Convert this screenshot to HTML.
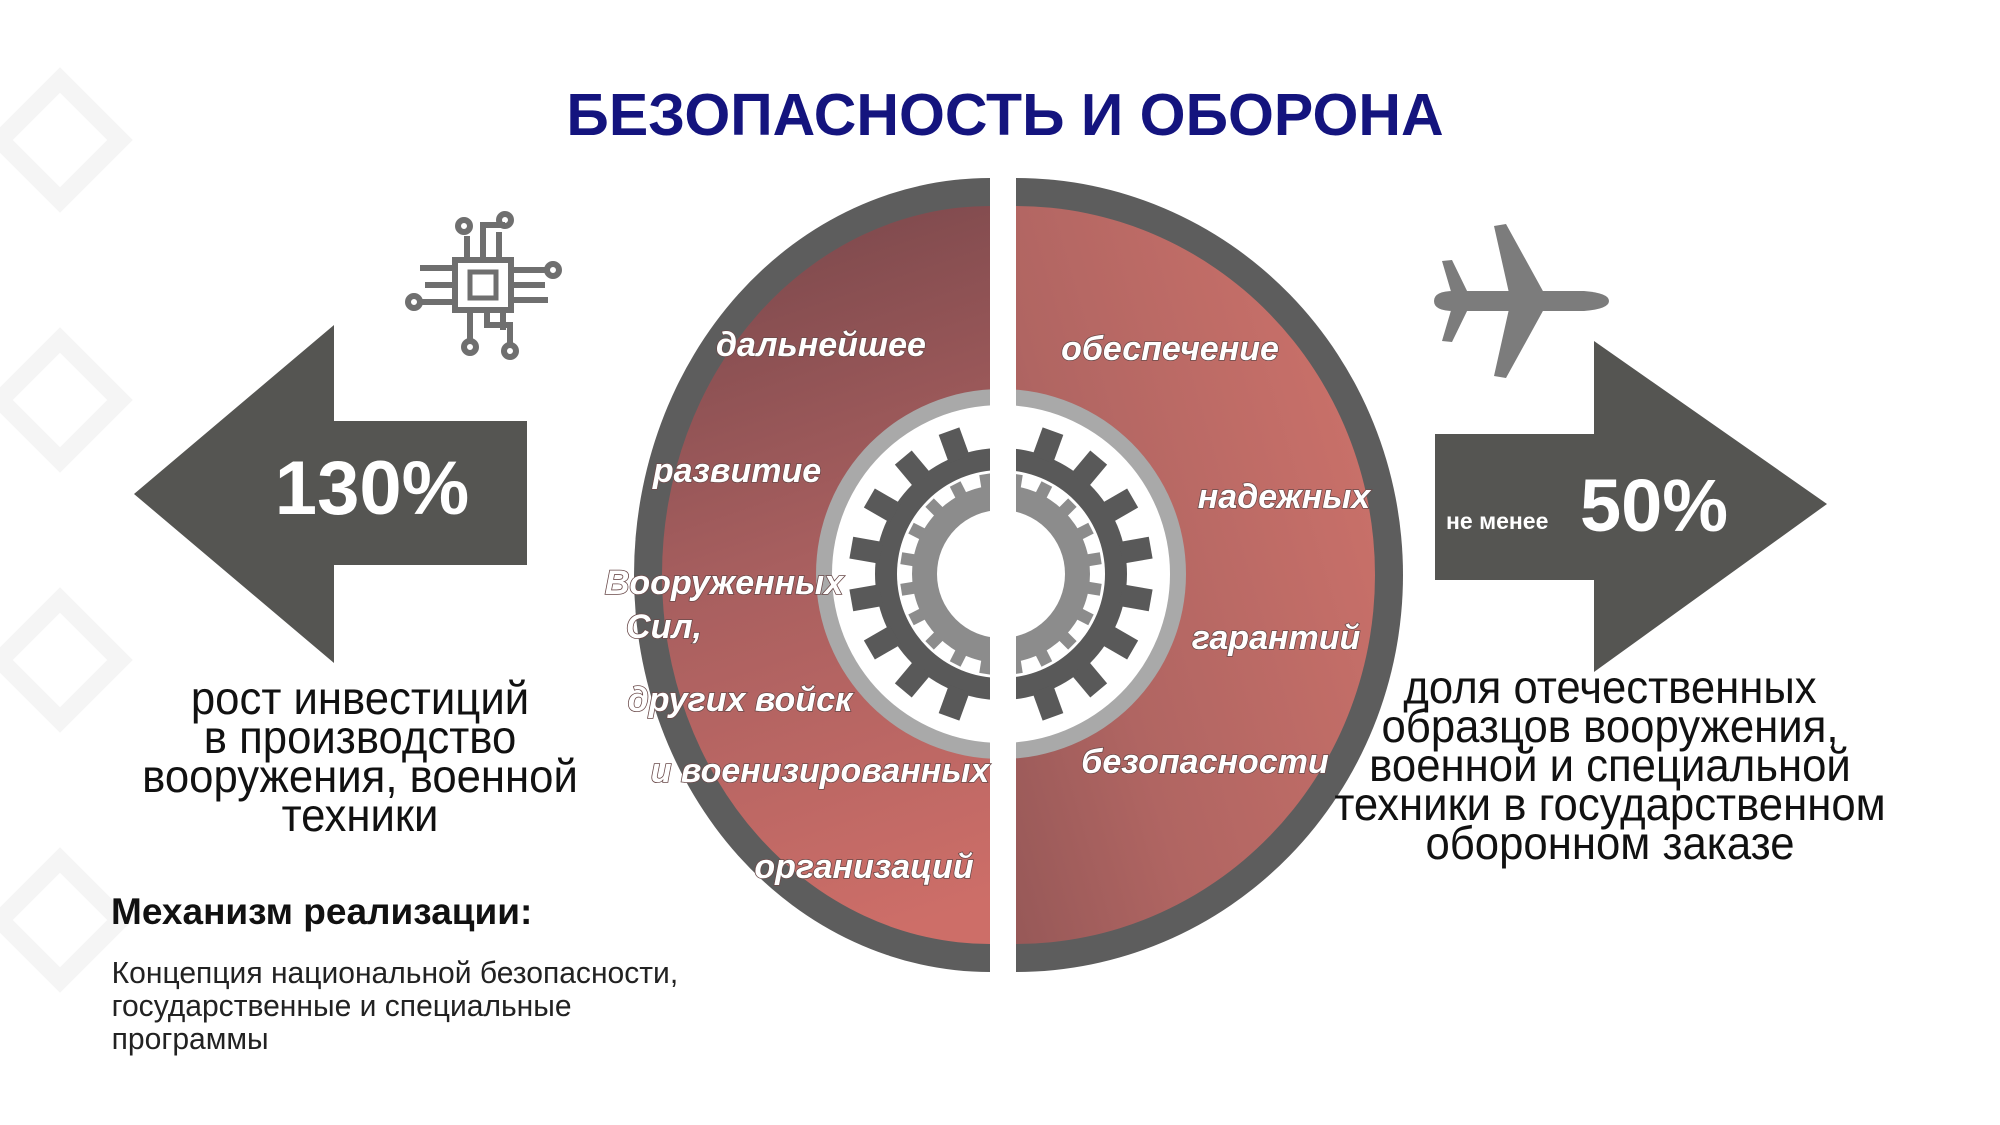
<!DOCTYPE html>
<html><head><meta charset="utf-8"><style>
body{margin:0;background:#fff}
svg{display:block}
</style></head><body>
<svg width="2000" height="1125" viewBox="0 0 2000 1125" xmlns="http://www.w3.org/2000/svg">
<defs>
<linearGradient id="gl" x1="0" y1="0" x2="0.3" y2="1">
<stop offset="0" stop-color="#77464a"/><stop offset="0.5" stop-color="#a85f5f"/><stop offset="1" stop-color="#cd6e68"/>
</linearGradient>
<linearGradient id="gr" x1="0" y1="0.3" x2="1" y2="0">
<stop offset="0" stop-color="#7a4a4c"/><stop offset="0.5" stop-color="#b06562"/><stop offset="1" stop-color="#cf736b"/>
</linearGradient>
<rect id="t1" x="-11" y="-152" width="22" height="30" fill="#595959"/>
<rect id="t2" x="-6" y="-101" width="12" height="14" fill="#8c8c8c"/>
</defs>
<rect width="2000" height="1125" fill="#fff"/>
<path d="M0 140 L60 80 L120 140 L60 200Z M0 400 L60 340 L120 400 L60 460Z M0 660 L60 600 L120 660 L60 720Z M0 920 L60 860 L120 920 L60 980Z" fill="none" stroke="#f5f5f5" stroke-width="18"/>
<text x="1005" y="135" text-anchor="middle" font-family="Liberation Sans, sans-serif" font-weight="bold" font-size="59" fill="#14147e">БЕЗОПАСНОСТЬ И ОБОРОНА</text>

<clipPath id="cl"><rect x="0" y="0" width="990" height="1125"/></clipPath>
<clipPath id="cr"><rect x="1016" y="0" width="1000" height="1125"/></clipPath>
<g clip-path="url(#cl)">
<ellipse cx="990" cy="575" rx="356" ry="397" fill="#5d5d5d"/>
<ellipse cx="990" cy="575" rx="328" ry="369" fill="url(#gl)"/>
</g>
<g clip-path="url(#cr)">
<ellipse cx="1016" cy="575" rx="387" ry="397" fill="#5d5d5d"/>
<ellipse cx="1016" cy="575" rx="359" ry="369" fill="url(#gr)"/>
</g>
<circle cx="1001" cy="574" r="185" fill="#a9a9a9"/>
<circle cx="1001" cy="574" r="169" fill="#fff"/>
<g transform="translate(1001 574)">
<circle r="126" fill="#595959"/>
<g>
<use href="#t1"/><use href="#t1" transform="rotate(20)"/><use href="#t1" transform="rotate(40)"/><use href="#t1" transform="rotate(60)"/><use href="#t1" transform="rotate(80)"/><use href="#t1" transform="rotate(100)"/><use href="#t1" transform="rotate(120)"/><use href="#t1" transform="rotate(140)"/><use href="#t1" transform="rotate(160)"/><use href="#t1" transform="rotate(180)"/><use href="#t1" transform="rotate(200)"/><use href="#t1" transform="rotate(220)"/><use href="#t1" transform="rotate(240)"/><use href="#t1" transform="rotate(260)"/><use href="#t1" transform="rotate(280)"/><use href="#t1" transform="rotate(300)"/><use href="#t1" transform="rotate(320)"/><use href="#t1" transform="rotate(340)"/>
</g>
<circle r="104" fill="#fff"/>
<circle r="89" fill="#8c8c8c"/>
<g>
<use href="#t2" transform="rotate(9)"/><use href="#t2" transform="rotate(27)"/><use href="#t2" transform="rotate(45)"/><use href="#t2" transform="rotate(63)"/><use href="#t2" transform="rotate(81)"/><use href="#t2" transform="rotate(99)"/><use href="#t2" transform="rotate(117)"/><use href="#t2" transform="rotate(135)"/><use href="#t2" transform="rotate(153)"/><use href="#t2" transform="rotate(171)"/><use href="#t2" transform="rotate(189)"/><use href="#t2" transform="rotate(207)"/><use href="#t2" transform="rotate(225)"/><use href="#t2" transform="rotate(243)"/><use href="#t2" transform="rotate(261)"/><use href="#t2" transform="rotate(279)"/><use href="#t2" transform="rotate(297)"/><use href="#t2" transform="rotate(315)"/><use href="#t2" transform="rotate(333)"/><use href="#t2" transform="rotate(351)"/>
</g>
<circle r="64" fill="#fff"/>
</g>
<rect x="990" y="170" width="26" height="810" fill="#fff"/>

<g font-family="Liberation Sans, sans-serif" font-weight="bold" font-style="italic" font-size="34" fill="#fff" text-anchor="middle" stroke="#6a4a4a" stroke-width="1.6" paint-order="stroke">
<text x="821" y="356">дальнейшее</text>
<text x="737" y="482">развитие</text>
<text x="724" y="594">Вооруженных</text>
<text x="664" y="638">Сил,</text>
<text x="740" y="711">других войск</text>
<text x="820" y="782">и военизированных</text>
<text x="864" y="878">организаций</text>
<text x="1170" y="360">обеспечение</text>
<text x="1284" y="508">надежных</text>
<text x="1276" y="649">гарантий</text>
<text x="1205" y="773">безопасности</text>
</g>

<polygon points="134,494 334,325 334,421 527,421 527,565 334,565 334,663" fill="#555552"/>
<text x="372" y="514" text-anchor="middle" font-family="Liberation Sans, sans-serif" font-weight="bold" font-size="76" fill="#fff">130%</text>
<polygon points="1435,434 1594,434 1594,341 1827,504 1594,672 1594,580 1435,580" fill="#555552"/>
<text x="1446" y="529" font-family="Liberation Sans, sans-serif" font-weight="bold" font-size="23" fill="#fff">не менее</text>
<text x="1580" y="531" font-family="Liberation Sans, sans-serif" font-weight="bold" font-size="74" fill="#fff">50%</text>

<g font-family="Liberation Sans, sans-serif" font-size="46" fill="#111" text-anchor="middle">
<g transform="translate(360 0) scale(0.95 1)">
<text x="0" y="714">рост инвестиций</text>
<text x="0" y="753">в производство</text>
<text x="0" y="792">вооружения, военной</text>
<text x="0" y="831">техники</text>
</g>
<g transform="translate(1610 0) scale(0.95 1)">
<text x="0" y="703">доля отечественных</text>
<text x="0" y="742">образцов вооружения,</text>
<text x="0" y="781">военной и специальной</text>
<text x="0" y="820">техники в государственном</text>
<text x="0" y="859">оборонном заказе</text>
</g>
</g>
<g font-family="Liberation Sans, sans-serif" fill="#111">
<text x="111" y="924" font-weight="bold" font-size="37">Механизм реализации:</text>
<g font-size="31" fill="#222" transform="translate(4 0) scale(0.97 1)">
<text x="111" y="983">Концепция национальной безопасности,</text>
<text x="111" y="1016">государственные и специальные</text>
<text x="111" y="1049">программы</text>
</g>
</g>

<g stroke="#6f6f6f" stroke-width="6" fill="none">
<rect x="455" y="260" width="56" height="50"/>
<rect x="470" y="272" width="26" height="26" stroke-width="5"/>
<path d="M455 268 H420 M455 285 H425 M455 302 H420 M511 270 H548 M511 285 H545 M511 300 H548"/>
<path d="M467 260 V236 M483 260 V225 H505 M499 260 V232 M470 310 V340 M487 310 V325 H510 V345 M503 310 V330"/>
<circle cx="464" cy="226" r="6"/><circle cx="505" cy="220" r="6"/><circle cx="414" cy="302" r="6"/><circle cx="553" cy="270" r="6"/><circle cx="470" cy="347" r="6"/><circle cx="510" cy="351" r="6"/>
</g>
<g fill="#7c7c7c" transform="translate(1514 301)">
<path d="M-80 0 Q-80 -10 -60 -10 L70 -10 Q95 -8 95 0 Q95 8 70 10 L-60 10 Q-80 10 -80 0Z"/>
<path d="M-5 -8 L-20 -75 L-8 -77 L30 -8Z M-5 8 L-20 75 L-8 77 L30 8Z"/>
<path d="M-62 -6 L-72 -40 L-62 -41 L-45 -6Z M-62 6 L-72 40 L-62 41 L-45 6Z"/>
</g>
</svg>
</body></html>
